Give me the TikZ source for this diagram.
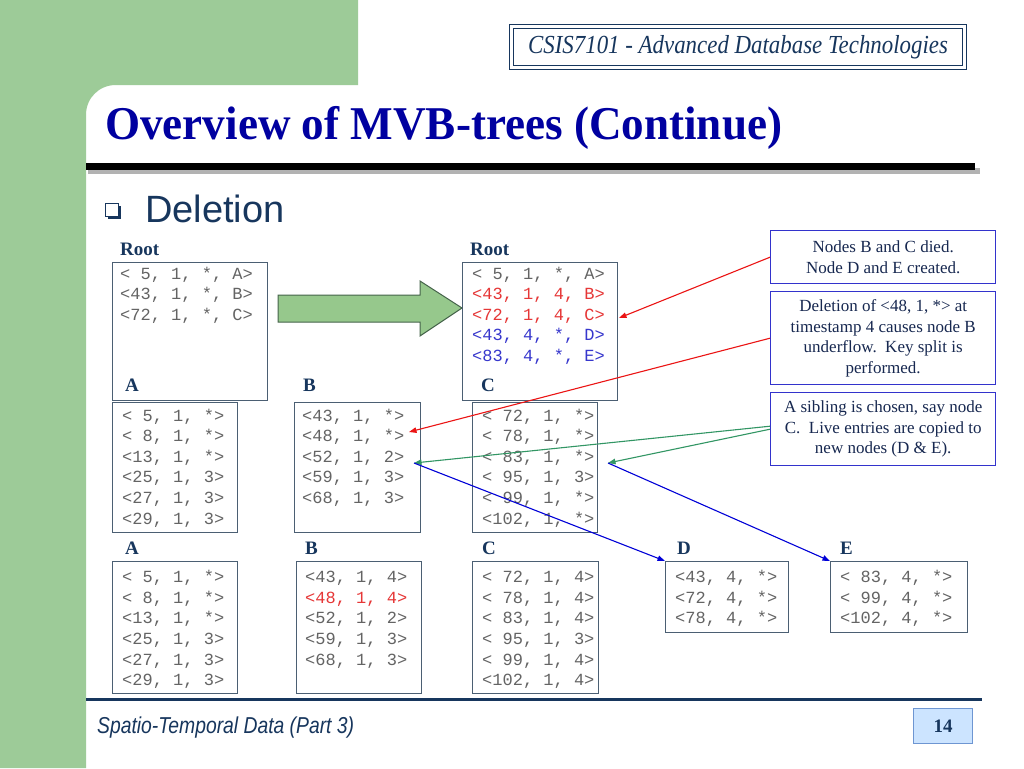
\documentclass[tikz,border=0pt]{standalone}
\usepackage{fontspec}
\usepackage{graphicx}
\setmainfont{Liberation Serif}
\newfontfamily\monof{Liberation Mono}
\newfontfamily\sansf{Liberation Sans}
\usetikzlibrary{arrows.meta,shadows}
\definecolor{slidegreen}{RGB}{157,203,152}
\definecolor{navy}{RGB}{23,54,93}
\definecolor{titleblue}{RGB}{0,0,160}
\definecolor{monogray}{RGB}{100,100,100}
\definecolor{boxborder}{RGB}{75,95,115}
\definecolor{annblue}{RGB}{51,51,204}
\definecolor{anntext}{RGB}{23,40,80}
\definecolor{redtxt}{RGB}{230,55,55}
\definecolor{bluetxt}{RGB}{55,55,205}
\definecolor{arrowred}{RGB}{235,20,20}
\definecolor{arrowgreen}{RGB}{50,150,100}
\definecolor{arrowblue}{RGB}{0,0,215}
\definecolor{bigarrow}{RGB}{150,200,140}
\definecolor{bigarrowline}{RGB}{70,100,75}
\definecolor{pgfillc}{RGB}{204,228,255}
\definecolor{pgline}{RGB}{110,150,210}
\begin{document}
\begin{tikzpicture}[x=1pt,y=-1pt,
  mbox/.style={draw=boxborder, line width=1.3, anchor=north west, inner sep=0},
  mtext/.style={anchor=north west, inner sep=0, align=left, text=monogray,
    font=\monof\fontsize{17}{20.6}\selectfont},
  lbl/.style={anchor=base west, inner sep=0, text=navy,
    font=\bfseries\fontsize{19}{22}\selectfont},
  annbox/.style={draw=annblue, line width=1.4, anchor=north west, align=center,
    text=anntext, font=\fontsize{17}{20.5}\selectfont, inner sep=0},
  conn/.style={line width=1.1, -{Triangle[length=7.5pt,width=5.5pt]}},
  ]
\useasboundingbox (0,0) rectangle (1024,768);
\fill[white] (0,0) rectangle (1024,768);
% green frame
\fill[slidegreen] (0,0) -- (358,0) -- (358,85) -- (116,85)
  .. controls (99,85) and (86,98) .. (86,115) -- (86,768) -- (0,768) -- cycle;
% header
\node[draw=navy, double=white, double distance=2.2pt, line width=1.1,
  minimum width=453, minimum height=41, anchor=north west, inner sep=0,
  font=\itshape\fontsize{26}{28}\selectfont, text=navy] (hdr) at (511,26)
  {\scalebox{0.88}[1]{CSIS7101 - Advanced Database Technologies}};
% title
\node[anchor=base west, inner sep=0, text=titleblue,
  font=\bfseries\fontsize{47}{50}\selectfont] (title) at (105,139)
  {\scalebox{0.96}[1]{Overview of MVB-trees (Continue)}};
% black bar
\draw[line width=6, black!30] (88,171) -- (980,171);
\draw[line width=7, black] (86,166.5) -- (975,166.5);
% bullet
\node[draw=navy, line width=1.5, fill=white, minimum size=13, inner sep=0,
  drop shadow={shadow xshift=2pt, shadow yshift=-2pt, fill=navy, opacity=1}] (bullet) at (112,210) {};
\node[anchor=base west, inner sep=0, text=navy,
  font=\sansf\fontsize{38}{40}\selectfont] (del) at (145,222) {Deletion};
% root left
\node[lbl] (rootLl) at (120,255) {Root};
\node[mbox, minimum width=155, minimum height=138] (rootL) at (112,262) {};
\node[mtext] (rootLt) at (120,264.5) {\strut< 5, 1, *, A>\\<43, 1, *, B>\\<72, 1, *, C>};
% big arrow
\draw[fill=bigarrow, draw=bigarrowline, line width=1] (278,295) -- (420,295) -- (420,281)
  -- (462,308) -- (420,336) -- (420,322) -- (278,322) -- cycle;
% root right
\node[lbl] (rootRl) at (470,255) {Root};
\node[mbox, minimum width=155, minimum height=138] (rootR) at (462,262) {};
\node[mtext] (rootRt) at (472,264.5) {\strut< 5, 1, *, A>\\
  {\color{redtxt}<43, 1, 4, B>}\\{\color{redtxt}<72, 1, 4, C>}\\
  {\color{bluetxt}<43, 4, *, D>}\\{\color{bluetxt}<83, 4, *, E>}};
% row 2
\node[lbl] (A1l) at (125,391) {A};
\node[lbl] (B1l) at (303,391) {B};
\node[lbl] (C1l) at (481,391) {C};
\node[mbox, minimum width=125, minimum height=130] (A1) at (112,402) {};
\node[mbox, minimum width=126, minimum height=130] (B1) at (294,402) {};
\node[mbox, minimum width=125, minimum height=130] (C1) at (472,402) {};
\node[mtext] (A1t) at (122,406.5) {\strut< 5, 1, *>\\< 8, 1, *>\\<13, 1, *>\\<25, 1, 3>\\<27, 1, 3>\\<29, 1, 3>};
\node[mtext] (B1t) at (302,406.5) {\strut<43, 1, *>\\<48, 1, *>\\<52, 1, 2>\\<59, 1, 3>\\<68, 1, 3>};
\node[mtext] (C1t) at (482,406.5) {\strut< 72, 1, *>\\< 78, 1, *>\\< 83, 1, *>\\< 95, 1, 3>\\< 99, 1, *>\\<102, 1, *>};
% row 3
\node[lbl] (A2l) at (125,554) {A};
\node[lbl] (B2l) at (305,554) {B};
\node[lbl] (C2l) at (482,554) {C};
\node[lbl] (D2l) at (677,554) {D};
\node[lbl] (E2l) at (840,554) {E};
\node[mbox, minimum width=125, minimum height=132] (A2) at (112,561) {};
\node[mbox, minimum width=125, minimum height=132] (B2) at (296,561) {};
\node[mbox, minimum width=126, minimum height=132] (C2) at (472,561) {};
\node[mbox, minimum width=123, minimum height=71] (D) at (665,561) {};
\node[mbox, minimum width=137, minimum height=71] (E) at (830,561) {};
\node[mtext] (A2t) at (122,568) {\strut< 5, 1, *>\\< 8, 1, *>\\<13, 1, *>\\<25, 1, 3>\\<27, 1, 3>\\<29, 1, 3>};
\node[mtext] (B2t) at (305,568) {\strut<43, 1, 4>\\{\color{redtxt}<48, 1, 4>}\\<52, 1, 2>\\<59, 1, 3>\\<68, 1, 3>};
\node[mtext] (C2t) at (482,568) {\strut< 72, 1, 4>\\< 78, 1, 4>\\< 83, 1, 4>\\< 95, 1, 3>\\< 99, 1, 4>\\<102, 1, 4>};
\node[mtext] (Dt) at (675,568) {\strut<43, 4, *>\\<72, 4, *>\\<78, 4, *>};
\node[mtext] (Et) at (840,568) {\strut< 83, 4, *>\\< 99, 4, *>\\<102, 4, *>};
% annotations
\node[annbox, minimum width=225, minimum height=53] (ann1) at (770,230)
  {Nodes B and C died.\\Node D and E created.};
\node[annbox, minimum width=225, minimum height=93] (ann2) at (770,291)
  {Deletion of <48, 1, *> at\\timestamp 4 causes node B\\underflow.\ \ Key split is\\performed.};
\node[annbox, minimum width=225, minimum height=73] (ann3) at (770,392)
  {A sibling is chosen, say node\\C.\ \ Live entries are copied to\\new nodes (D \& E).};
% connectors
\coordinate (tipRoot) at (619,318);
\coordinate (tipB48) at (409,432);
\coordinate (tipB52) at (414,463);
\coordinate (tipC83) at (608,463);
\draw[conn, arrowred] (ann1.west) -- (tipRoot);
\draw[conn, arrowred] (ann2.west) -- (tipB48);
\draw[conn, arrowgreen] ([yshift=3]ann3.west) -- (tipB52);
\draw[conn, arrowgreen] (ann3.west) -- (tipC83);
\draw[conn, arrowblue] (tipB52) -- (D.north west);
\draw[conn, arrowblue] (tipC83) -- (E.north west);
% footer
\draw[navy, line width=3] (86,699) -- (982,699);
\node[anchor=base west, inner sep=0, text=navy,
  font=\sansf\itshape\fontsize{23}{25}\selectfont] (foot) at (97,733)
  {\scalebox{0.84}[1]{Spatio-Temporal Data (Part 3)}};
\node[draw=pgline, fill=pgfillc, line width=1, minimum width=59, minimum height=35,
  anchor=north west, inner sep=0, text=navy,
  font=\bfseries\fontsize{19}{21}\selectfont] (pg) at (913,708) {14};
\end{tikzpicture}
\end{document}
